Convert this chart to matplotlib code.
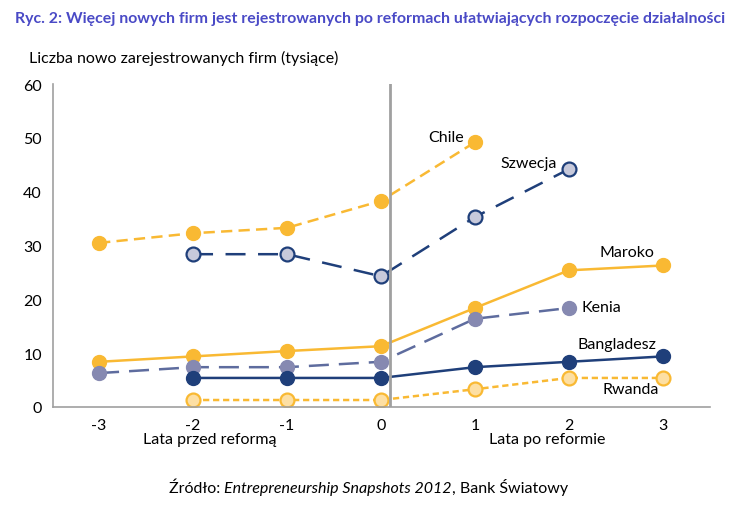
import matplotlib.pyplot as plt

plt.rcParams['font.family'] = ['Lato', 'DejaVu Sans']

# --- dane ---
lata = [-3, -2, -1, 0, 1, 2, 3]

chile_x = [-3, -2, -1, 0, 1]
chile_y = [30.5, 32.3, 33.3, 38.3, 49.2]

szwecja_x = [-2, -1, 0, 1, 2]
szwecja_y = [28.4, 28.4, 24.3, 35.3, 44.2]

maroko_x = [-3, -2, -1, 0, 1, 2, 3]
maroko_y = [8.4, 9.4, 10.4, 11.3, 18.4, 25.4, 26.3]

kenia_x = [-3, -2, -1, 0, 1, 2]
kenia_y = [6.3, 7.4, 7.4, 8.4, 16.4, 18.4]

bangladesz_x = [-2, -1, 0, 1, 2, 3]
bangladesz_y = [5.4, 5.4, 5.4, 7.4, 8.4, 9.4]

rwanda_x = [-2, -1, 0, 1, 2, 3]
rwanda_y = [1.3, 1.3, 1.3, 3.3, 5.4, 5.4]

orange = '#F9B933'
navy = '#1F3F7A'
kenia_line = '#5E6C9E'
kenia_fill = '#8689B1'

fig = plt.figure(figsize=(7.37, 5.10), dpi=100)
ax = fig.add_axes([0.072, 0.2, 0.891, 0.633])

ms = 10
ax.plot(chile_x, chile_y, color=orange, lw=1.8, dashes=(4.5, 2.5),
        marker='o', ms=ms, mfc=orange, mec=orange)
ax.plot(szwecja_x, szwecja_y, color=navy, lw=1.8, dashes=(8, 5),
        marker='o', ms=ms, mfc='#C7C9DB', mec=navy, mew=1.6)
ax.plot(maroko_x, maroko_y, color=orange, lw=1.8,
        marker='o', ms=ms, mfc=orange, mec=orange)
ax.plot(kenia_x, kenia_y, color=kenia_line, lw=1.8, dashes=(8, 4),
        marker='o', ms=ms, mfc=kenia_fill, mec=kenia_fill)
ax.plot(bangladesz_x, bangladesz_y, color=navy, lw=1.8,
        marker='o', ms=ms, mfc=navy, mec=navy)
ax.plot(rwanda_x, rwanda_y, color=orange, lw=1.8, dashes=(2.5, 1.5),
        marker='o', ms=ms, mfc='#FDDFA3', mec=orange, mew=1.6)

# pionowa linia - moment reformy
ax.axvline(0.1, color='#A0A0A0', lw=2)

ax.set_xlim(-3.49, 3.5)
ax.set_ylim(0, 60)
ax.set_xticks(lata)
ax.set_xticklabels([str(v) for v in lata])
ax.set_yticks(range(0, 61, 10))
ax.tick_params(length=0, labelsize=11.5, pad=8)
for s in ['top', 'right']:
    ax.spines[s].set_visible(False)
for s in ['left', 'bottom']:
    ax.spines[s].set_color('#A0A0A0')
    ax.spines[s].set_linewidth(1.2)

# etykiety serii
fs = 11.5
ax.text(0.5, 50.2, 'Chile', fontsize=fs, va='center')
ax.text(1.27, 45.3, 'Szwecja', fontsize=fs, va='center')
ax.text(2.33, 28.8, 'Maroko', fontsize=fs, va='center')
ax.text(2.14, 18.5, 'Kenia', fontsize=fs, va='center')
ax.text(2.09, 11.7, 'Bangladesz', fontsize=fs, va='center')
ax.text(2.36, 3.3, 'Rwanda', fontsize=fs, va='center')

fig.text(0.02, 0.962, 'Ryc. 2: Więcej nowych firm jest rejestrowanych po reformach ułatwiających rozpoczęcie działalności',
         color='#4A4AC6', fontsize=11.4, fontweight='bold', va='center')
fig.text(0.04, 0.886, 'Liczba nowo zarejestrowanych firm (tysiące)', fontsize=11.5, va='center')
fig.text(0.285, 0.137, 'Lata przed reformą', fontsize=11.5, ha='center', va='center')
fig.text(0.742, 0.137, 'Lata po reformie', fontsize=11.5, ha='center', va='center')

# źródło - trzy kawałki, środkowy kursywą
czesci = [('Źródło: ', 'normal'), ('Entrepreneurship Snapshots 2012', 'italic'), (', Bank Światowy', 'normal')]
r = fig.canvas.get_renderer()
teksty = [fig.text(0, 0.033, t, fontsize=11.5, style=st, va='baseline') for t, st in czesci]
szer = [t.get_window_extent(r).width for t in teksty]
x0 = (fig.bbox.width - sum(szer)) / 2
for t, w in zip(teksty, szer):
    t.set_x(x0 / fig.bbox.width)
    x0 += w

fig.savefig('out.png', dpi=100)
